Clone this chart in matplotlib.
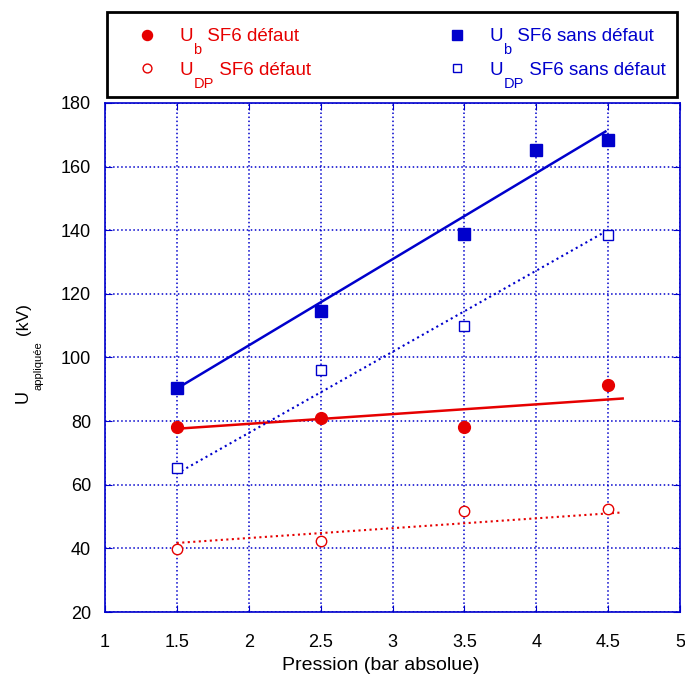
import matplotlib.pyplot as plt
from matplotlib.text import Annotation
from matplotlib.patches import Rectangle

plt.rcParams['font.family'] = ['Liberation Sans', 'DejaVu Sans']

red = '#e60000'
blue = '#0000cc'

# mesures
x_defaut = [1.5, 2.5, 3.5, 4.5]
ub_defaut = [78, 81, 78.3, 91.2]
udp_defaut = [39.8, 42.4, 51.8, 52.4]

x_sans = [1.5, 2.5, 3.5, 4.0, 4.5]
ub_sans = [90.5, 114.5, 138.7, 165.2, 168.3]
x_sans_dp = [1.5, 2.5, 3.5, 4.5]
udp_sans = [65.4, 96.2, 110, 138.4]

# droites de tendance
fit_ub_defaut_x = [1.5, 4.6]
fit_ub_defaut_y = [77.6, 87.1]
fit_udp_defaut_x = [1.5, 4.6]
fit_udp_defaut_y = [41.7, 51.3]
fit_ub_sans_x = [1.5, 4.48]
fit_ub_sans_y = [90.2, 171]
fit_udp_sans_x = [1.5, 4.49]
fit_udp_sans_y = [63.5, 139.8]

# legende : U + indice + reste du texte
leg_sub = ['b', 'DP', 'b', 'DP']
leg_rest = [' SF6 défaut', ' SF6 défaut', ' SF6 sans défaut', ' SF6 sans défaut']
leg_colors = [red, red, blue, blue]

fig = plt.figure(figsize=(6.85, 6.77), dpi=100)
ax = fig.add_axes([0.153, 0.096, 0.840, 0.752])

ax.plot(fit_ub_defaut_x, fit_ub_defaut_y, color=red, lw=1.8)
ax.plot(fit_udp_defaut_x, fit_udp_defaut_y, color=red, lw=1.5, ls=':')
ax.plot(fit_ub_sans_x, fit_ub_sans_y, color=blue, lw=1.8)
ax.plot(fit_udp_sans_x, fit_udp_sans_y, color=blue, lw=1.5, ls=':')

h1, = ax.plot(x_defaut, ub_defaut, 'o', color=red, ms=8.5, ls='none')
h2, = ax.plot(x_defaut, udp_defaut, 'o', mfc='white', mec=red, mew=1, ms=7.5, ls='none')
h3, = ax.plot(x_sans, ub_sans, 's', color=blue, ms=8.5, ls='none')
h4, = ax.plot(x_sans_dp, udp_sans, 's', mfc='white', mec=blue, mew=1, ms=7.5, ls='none')

ax.set_xlim(1, 5)
ax.set_ylim(20, 180)
ax.set_xticks([1, 1.5, 2, 2.5, 3, 3.5, 4, 4.5, 5])
ax.set_xticklabels(['1', '1.5', '2', '2.5', '3', '3.5', '4', '4.5', '5'])
ax.set_yticks(range(20, 181, 20))
ax.grid(True, color=blue, ls=':', lw=1.1)
ax.set_axisbelow(True)
for s in ax.spines.values():
    s.set_color(blue)
    s.set_linewidth(1.2)
ax.tick_params(direction='in', color=blue, length=5, labelsize=13, top=True, right=True)
ax.tick_params(axis='x', pad=16)
ax.tick_params(axis='y', pad=10)

ax.set_xlabel('Pression (bar absolue)', fontsize=14)
ax.xaxis.set_label_coords(0.48, -0.088)

# label y : U, indice "appliquée" decale vers le bas, puis (kV)
yl = ax.text(-0.127, 0.411, 'U', rotation=90, ha='right', va='bottom',
             fontsize=13, transform=ax.transAxes)
ysub = Annotation('appliquée', xy=(1, 1), xycoords=yl, xytext=(2, 0),
                  textcoords='offset pixels', rotation=90, ha='left', va='bottom',
                  fontsize=8, zorder=6)
fig.add_artist(ysub)
yrest = Annotation(' (kV)', xy=(1, 1), xycoords=(yl, ysub), rotation=90,
                   ha='right', va='bottom', fontsize=12.5, zorder=7)
fig.add_artist(yrest)

leg = fig.legend([h1, h2, h3, h4], ['U'] * 4, ncol=2, loc='upper left',
                 bbox_to_anchor=(128 / 685, 1 - 28 / 677), frameon=False,
                 fontsize=13.5, borderaxespad=0, borderpad=0, markerscale=0.85,
                 handlelength=2.0, handletextpad=0.76, columnspacing=13.05,
                 labelspacing=0.87)
for t, c, sb, rs in zip(leg.get_texts(), leg_colors, leg_sub, leg_rest):
    t.set_color(c)
    a = Annotation(sb, xy=(1, 0), xycoords=t, xytext=(0, 2),
                   textcoords='offset pixels', ha='left', va='top',
                   fontsize=10.5, color=c, zorder=6)
    fig.add_artist(a)
    b = Annotation(rs, xy=(1, 0), xycoords=(a, t), ha='left', va='bottom',
                   fontsize=13.5, color=c, zorder=7)
    fig.add_artist(b)

fig.add_artist(Rectangle((107 / 685, 1 - 97 / 677), 570 / 685, 85 / 677,
                         transform=fig.transFigure, fill=False, lw=2, ec='black'))

fig.savefig('out.png', dpi=100)
